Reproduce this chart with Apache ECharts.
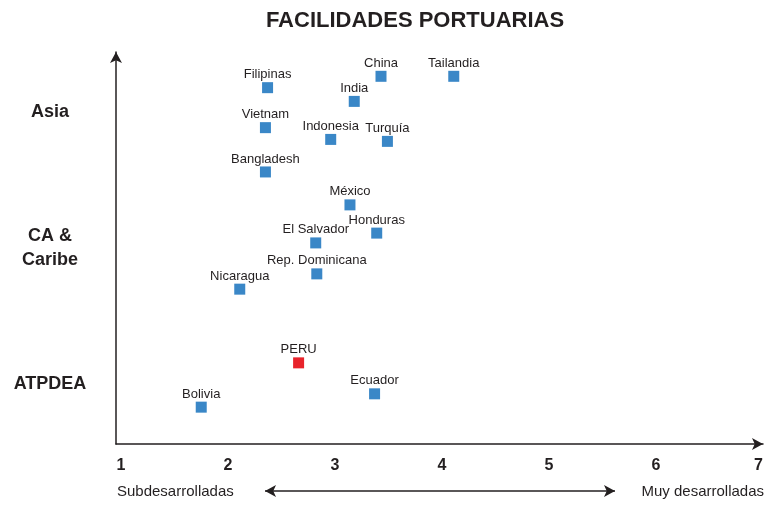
<!DOCTYPE html>
<html>
<head>
<meta charset="utf-8">
<script src="https://cdn.jsdelivr.net/npm/echarts@6/dist/echarts.min.js"></script>
<style>
  html, body { margin: 0; padding: 0; background: #ffffff; }
  #chart { width: 766px; height: 505px; }
</style>
</head>
<body>
<div id="chart"></div>
<script>
// countries and their position (x: port development 1..7, y: vertical placement 0..100)
const countries = [
  "Filipinas", "China", "Tailandia", "India", "Vietnam", "Indonesia", "Turquía", "Bangladesh",
  "México", "Honduras", "El Salvador", "Rep. Dominicana", "Nicaragua",
  "PERU", "Ecuador", "Bolivia",
];
const xValues = [2.37, 3.43, 4.11, 3.18, 2.35, 2.96, 3.49, 2.35, 3.14, 3.39, 2.82, 2.83, 2.11, 2.66, 3.37, 1.75];
const yValues = [90.9, 93.8, 93.8, 87.4, 80.7, 77.7, 77.2, 69.4, 61.0, 53.8, 51.3, 43.4, 39.5, 20.7, 12.8, 9.4];
const highlight = "PERU";

const groups = ["ATPDEA", "CA &\nCaribe", "Asia"];
const xTicks = [1, 2, 3, 4, 5, 6, 7];

const BLUE = "#3a87c7";
const RED = "#e8232b";
const INK = "#231f20";
const FONT = "Liberation Sans, Arial, sans-serif";

const chart = echarts.init(document.getElementById("chart"), null, { renderer: "canvas" });

chart.setOption({
  animation: false,
  title: {
    text: "FACILIDADES PORTUARIAS",
    left: 410,
    top: 5,
    textAlign: "center",
    textStyle: { fontFamily: FONT, fontSize: 22, fontWeight: "bold", color: INK },
  },
  grid: [
    { left: 116, right: 0, top: 52, bottom: 61 },
    { left: 100, width: 10, top: 112, bottom: 121 },
  ],
  xAxis: [
    {
      gridIndex: 0,
      type: "value",
      min: 1 - 5 / 107.5,
      max: 7,
      splitLine: { show: false },
      axisTick: { show: false },
      axisLine: {
        onZero: false,
        symbol: ["none", "arrow"],
        symbolSize: [9, 11],
        lineStyle: { color: INK, width: 1.5 },
      },
      axisLabel: {
        customValues: xTicks,
        alignMaxLabel: "right",
        margin: 14,
        color: INK,
        fontFamily: FONT,
        fontSize: 16,
        fontWeight: "bold",
      },
    },
    { gridIndex: 1, type: "value", show: false },
  ],
  yAxis: [
    {
      gridIndex: 0,
      type: "value",
      min: 0,
      max: 100,
      splitLine: { show: false },
      axisTick: { show: false },
      axisLabel: { show: false },
      axisLine: {
        onZero: false,
        symbol: ["none", "arrow"],
        symbolSize: [9, 11],
        lineStyle: { color: INK, width: 1.5 },
      },
    },
    {
      gridIndex: 1,
      type: "category",
      data: groups,
      boundaryGap: false,
      axisLine: { show: false },
      axisTick: { show: false },
      axisLabel: {
        margin: 50,
        align: "center",
        color: INK,
        fontFamily: FONT,
        fontSize: 18,
        fontWeight: "bold",
        lineHeight: 24,
      },
    },
  ],
  graphic: [
    {
      type: "text",
      left: 117,
      top: 484,
      style: { text: "Subdesarrolladas", fill: INK, font: "15px " + FONT },
    },
    {
      type: "text",
      right: 2,
      top: 484,
      style: { text: "Muy desarrolladas", fill: INK, font: "15px " + FONT },
    },
  ],
  series: [
    {
      type: "scatter",
      xAxisIndex: 0,
      yAxisIndex: 0,
      symbol: "rect",
      symbolSize: 11,
      itemStyle: { opacity: 1 },
      data: countries.map((name, i) => ({
        name,
        value: [xValues[i], yValues[i]],
        itemStyle: { color: name === highlight ? RED : BLUE, opacity: 1 },
      })),
      label: {
        show: true,
        position: "top",
        distance: 1,
        formatter: (p) => p.name,
        color: INK,
        fontFamily: FONT,
        fontSize: 13,
      },
      markLine: {
        silent: true,
        symbol: ["arrow", "arrow"],
        symbolSize: [9, 11],
        label: { show: false },
        lineStyle: { color: INK, width: 1.5, type: "solid", opacity: 1 },
        data: [[{ x: 265, y: 491 }, { x: 615, y: 491 }]],
      },
    },
  ],
});
</script>
</body>
</html>
